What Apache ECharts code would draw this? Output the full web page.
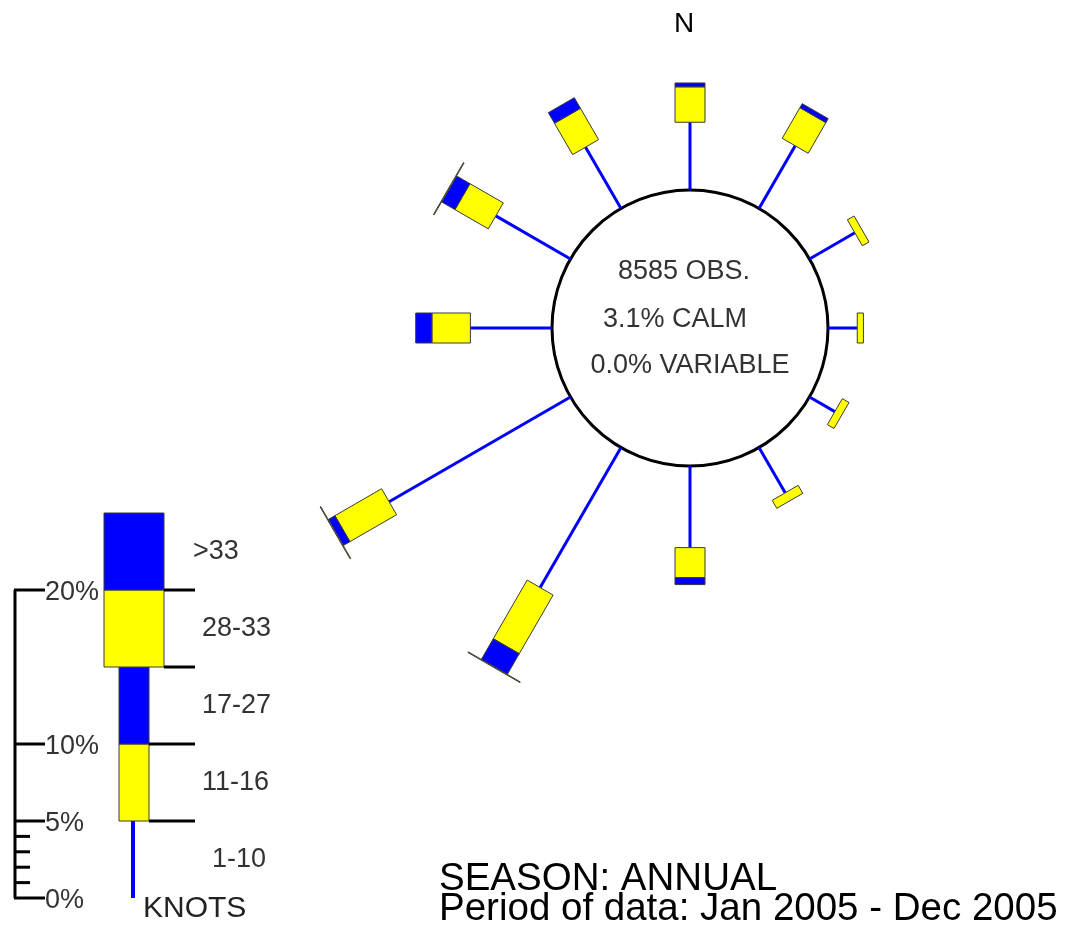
<!DOCTYPE html>
<html>
<head>
<meta charset="utf-8">
<style>
  html, body { margin: 0; padding: 0; background: #ffffff; }
  #chart { width: 1069px; height: 926px; }
</style>
<script src="https://cdn.jsdelivr.net/npm/echarts@6/dist/echarts.min.js"></script>
</head>
<body>
<div id="chart"></div>
<script>
// Wind direction (degrees from north) and percent frequency of each speed class
const directions  = [0, 30, 60, 90, 120, 150, 180, 210, 240, 270, 300, 330];
const knots1to10  = [4.4, 4.7, 3.4, 1.9, 1.9, 3.4, 5.3, 10.5, 13.6, 5.3, 5.6, 4.6];
const knots11to16 = [2.3, 2.3, 0.5, 0.4, 0.5, 0.6, 1.95, 4.4, 3.5, 2.5, 2.5, 2.35];
const knots17to27 = [0.25, 0.3, 0, 0, 0, 0, 0.45, 1.55, 0.5, 1.05, 1.0, 0.8];
const knots28to33 = [0, 0, 0, 0, 0, 0, 0, 0.05, 0.05, 0, 0.05, 0];
const knotsOver33 = [0, 0, 0, 0, 0, 0, 0, 0, 0, 0, 0, 0];

const summaryLines = ['8585 OBS.', '3.1% CALM', '0.0% VARIABLE'];
const northLabel = 'N';
const footerLines = ['SEASON: ANNUAL', 'Period of data: Jan 2005 - Dec 2005'];

// Speed key: class names, band edges (percent) and scale ticks
const speedClasses   = ['1-10', '11-16', '17-27', '28-33', '>33'];
const keyBandEdges   = [0, 5, 10, 15, 20, 25];
const keyMajorTicks  = [0, 5, 10, 20];
const keyMajorLabels = ['0%', '5%', '10%', '20%'];
const keyMinorTicks  = [1, 2, 3, 4];
const keyUnitsLabel  = 'KNOTS';

// Drawing style for each speed class: first is a thin line, then boxes
const BLUE = '#0000ff', YELLOW = '#ffff00', EDGE = '#3a3a3a';
const classStyle = [
  { kind: 'line', color: BLUE, width: 3 },
  { kind: 'box', color: YELLOW, width: 30 },
  { kind: 'box', color: BLUE, width: 30 },
  { kind: 'box', color: YELLOW, width: 60 },
  { kind: 'box', color: BLUE, width: 60 }
];
const FONT = '"Liberation Sans", Arial, sans-serif';
const PX_PER_PCT = 15.4;
const CALM_RADIUS = 138;

const roseData = directions.map((d, i) =>
  [knots1to10[i], d, knots11to16[i], knots17to27[i], knots28to33[i], knotsOver33[i]]);

function quad(a, b, n, h) {
  return [
    [a[0] + n[0] * h, a[1] + n[1] * h],
    [b[0] + n[0] * h, b[1] + n[1] * h],
    [b[0] - n[0] * h, b[1] - n[1] * h],
    [a[0] - n[0] * h, a[1] - n[1] * h]
  ];
}

// One spoke per direction, stacked outward from the calm circle
function renderSpoke(params, api) {
  const ang = api.value(1);
  const segs = [api.value(0), api.value(2), api.value(3), api.value(4), api.value(5)];
  let r = 0;
  const lines = [], boxes = [];
  segs.forEach((v, k) => {
    if (!(v > 0)) return;
    const a = api.coord([r, ang]);
    const b = api.coord([r + v, ang]);
    r += v;
    const st = classStyle[k];
    if (st.kind === 'line') {
      lines.push({
        type: 'line',
        shape: { x1: a[0], y1: a[1], x2: b[0], y2: b[1] },
        style: { stroke: st.color, lineWidth: st.width }
      });
    } else {
      const dx = b[0] - a[0], dy = b[1] - a[1];
      const len = Math.sqrt(dx * dx + dy * dy) || 1;
      const n = [-dy / len, dx / len];
      boxes.push({
        type: 'polygon',
        shape: { points: quad(a, b, n, st.width / 2) },
        style: { fill: st.color, stroke: EDGE, lineWidth: 1 }
      });
    }
  });
  return { type: 'group', children: lines.concat(boxes) };
}

// Calm circle with observation summary
function renderCalm(params, api) {
  const cs = params.coordSys;
  const edge = api.coord([0, 0]);
  const rad = Math.hypot(edge[0] - cs.cx, edge[1] - cs.cy);
  const offsets = [[-6, -56], [-15, -8], [0, 38]];
  const children = [{
    type: 'circle',
    shape: { cx: cs.cx, cy: cs.cy, r: rad },
    style: { fill: '#ffffff', stroke: '#000000', lineWidth: 3 }
  }];
  summaryLines.forEach((t, i) => {
    children.push({
      type: 'text',
      style: {
        text: t, x: cs.cx + offsets[i][0], y: cs.cy + offsets[i][1],
        fill: '#333333', fontSize: 27, fontFamily: FONT,
        align: 'center', verticalAlign: 'middle'
      }
    });
  });
  return { type: 'group', children: children };
}

// Speed key drawn on its own percent scale
function renderKey(params, api) {
  const c = (x, p) => api.coord([x, p]);
  const children = [];
  const seg = (x1, p1, x2, p2, color, w) => {
    const a = c(x1, p1), b = c(x2, p2);
    children.push({
      type: 'line',
      shape: { x1: a[0], y1: a[1], x2: b[0], y2: b[1] },
      style: { stroke: color, lineWidth: w }
    });
  };
  const text = (t, x, p, size, dy, color) => {
    const a = c(x, p);
    children.push({
      type: 'text',
      style: {
        text: t, x: a[0], y: a[1] + (dy || 0), fill: color || '#333333',
        fontSize: size, fontFamily: FONT, align: 'left', verticalAlign: 'middle'
      }
    });
  };
  // vertical scale
  seg(15, keyMajorTicks[0], 15, keyMajorTicks[keyMajorTicks.length - 1], '#000', 3);
  keyMajorTicks.forEach((t, i) => {
    seg(14, t, 45, t, '#000', 3);
    text(keyMajorLabels[i], 45, t, 27, 3);
  });
  keyMinorTicks.forEach(t => seg(14, t, 30, t, '#000', 3));

  // class bands
  const bandX = [133, 134, 134, 134, 134];
  speedClasses.forEach((name, k) => {
    const p0 = keyBandEdges[k], p1 = keyBandEdges[k + 1];
    const st = classStyle[k];
    if (st.kind === 'line') {
      seg(133, p0, 133, p1, st.color, 4);
    } else {
      const a = c(bandX[k] - st.width / 2, p1), b = c(bandX[k] + st.width / 2, p0);
      children.push({
        type: 'rect',
        shape: { x: a[0], y: a[1], width: b[0] - a[0], height: b[1] - a[1] },
        style: { fill: st.color, stroke: EDGE, lineWidth: 1 }
      });
    }
  });
  // separators between classes
  keyBandEdges.slice(1, 5).forEach((p, i) => {
    const w = classStyle[i + 1].width;
    seg(134 + w / 2, p, 195, p, '#000', 3);
  });
  const labelX = [212, 202, 202, 202, 193];
  speedClasses.forEach((name, k) => {
    text(name, labelX[k], (keyBandEdges[k] + keyBandEdges[k + 1]) / 2, 27, 0);
  });
  text(keyUnitsLabel, 143, keyBandEdges[0], 30, 11, '#222222');
  return { type: 'group', children: children };
}

const chart = echarts.init(document.getElementById('chart'), null, { renderer: 'canvas' });
chart.setOption({
  animation: false,
  backgroundColor: '#ffffff',
  polar: {
    center: [690, 328],
    radius: [CALM_RADIUS, CALM_RADIUS + 20 * PX_PER_PCT]
  },
  angleAxis: {
    type: 'value', min: 0, max: 360, startAngle: 90, clockwise: true,
    show: false, splitLine: { show: false }, axisLine: { show: false },
    axisTick: { show: false }, axisLabel: { show: false }
  },
  radiusAxis: {
    type: 'value', min: 0, max: 20,
    show: false, splitLine: { show: false }, axisLine: { show: false },
    axisTick: { show: false }, axisLabel: { show: false }
  },
  grid: {
    left: 0, top: 898 - 25 * PX_PER_PCT, width: 200, height: 25 * PX_PER_PCT
  },
  xAxis: { type: 'value', min: 0, max: 200, show: false },
  yAxis: { type: 'value', min: 0, max: 25, show: false },
  graphic: [
    {
      type: 'text', x: 684, y: 24,
      style: { text: northLabel, fill: '#000', fontSize: 28, fontFamily: FONT,
               align: 'center', verticalAlign: 'middle' }
    },
    {
      type: 'text', x: 439, y: 879,
      style: { text: footerLines[0], fill: '#000', fontSize: 38.5, fontFamily: FONT,
               align: 'left', verticalAlign: 'middle' }
    },
    {
      type: 'text', x: 439, y: 909,
      style: { text: footerLines[1], fill: '#000', fontSize: 38.5, fontFamily: FONT,
               align: 'left', verticalAlign: 'middle' }
    }
  ],
  series: [
    {
      type: 'custom', name: 'calm', coordinateSystem: 'polar',
      data: [[0, 0]], renderItem: renderCalm, silent: true
    },
    {
      type: 'custom', name: 'wind', coordinateSystem: 'polar',
      dimensions: ['radius', 'angle', 's2', 's3', 's4', 's5'],
      encode: { radius: 0, angle: 1 },
      data: roseData, renderItem: renderSpoke, silent: true
    },
    {
      type: 'custom', name: 'key', coordinateSystem: 'cartesian2d',
      data: [[0, 0]], renderItem: renderKey, silent: true
    }
  ]
});
</script>
</body>
</html>
